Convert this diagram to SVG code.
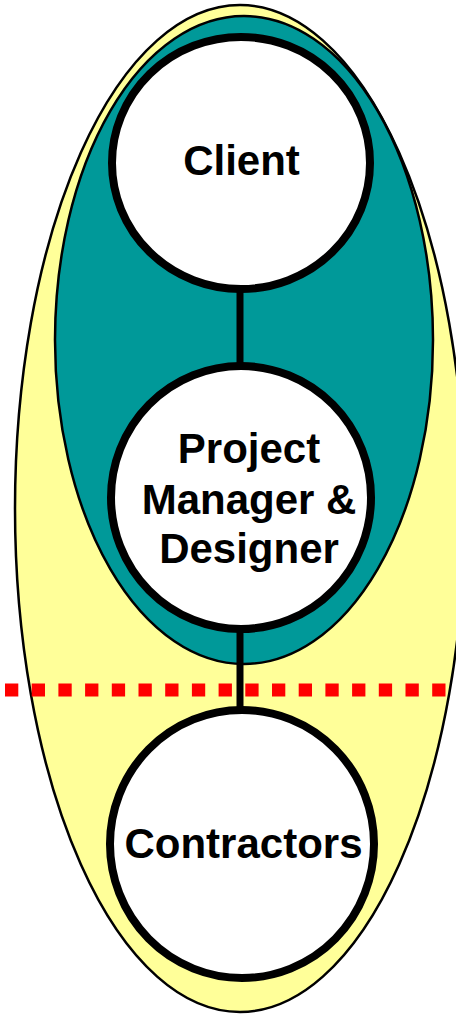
<svg xmlns="http://www.w3.org/2000/svg" width="456" height="1015" viewBox="0 0 456 1015">
  <style>
    .region { stroke: #000000; stroke-width: 2.5; }
    .node { fill: #FFFFFF; stroke: #000000; stroke-width: 8; }
    .label { font-family: "Liberation Sans", Arial, sans-serif; font-weight: bold; font-size: 42px; fill: #000000; text-anchor: middle; }
    .conn { stroke: #000000; stroke-width: 7; fill: none; }
    .divider { stroke: #FF0000; stroke-width: 13; stroke-dasharray: 13.3 13.4; fill: none; }
  </style>
  <rect x="0" y="0" width="456" height="1015" fill="#FFFFFF"/>
  <g id="outer-region">
    <ellipse class="region" cx="240" cy="508.5" rx="225" ry="503.5" fill="#FFFF99"/>
  </g>
  <g id="inner-region">
    <ellipse class="region" cx="244" cy="340" rx="189" ry="324" fill="#009999"/>
  </g>
  <g id="connectors">
    <line class="conn" x1="240" y1="288" x2="240" y2="366"/>
    <line class="conn" x1="240" y1="628" x2="240" y2="710"/>
  </g>
  <g id="divider">
    <line class="divider" x1="5" y1="690" x2="446" y2="690"/>
  </g>
  <g id="client">
    <ellipse class="node" cx="241" cy="163" rx="129" ry="126"/>
    <text class="label" x="241.5" y="175">Client</text>
  </g>
  <g id="project-manager">
    <ellipse class="node" cx="241" cy="497.5" rx="130" ry="131.5"/>
    <text class="label" x="249" y="463">Project</text>
    <text class="label" x="249" y="514">Manager &amp;</text>
    <text class="label" x="249" y="563">Designer</text>
  </g>
  <g id="contractors">
    <ellipse class="node" cx="242" cy="844" rx="132" ry="134"/>
    <text class="label" x="243.5" y="858">Contractors</text>
  </g>
</svg>
